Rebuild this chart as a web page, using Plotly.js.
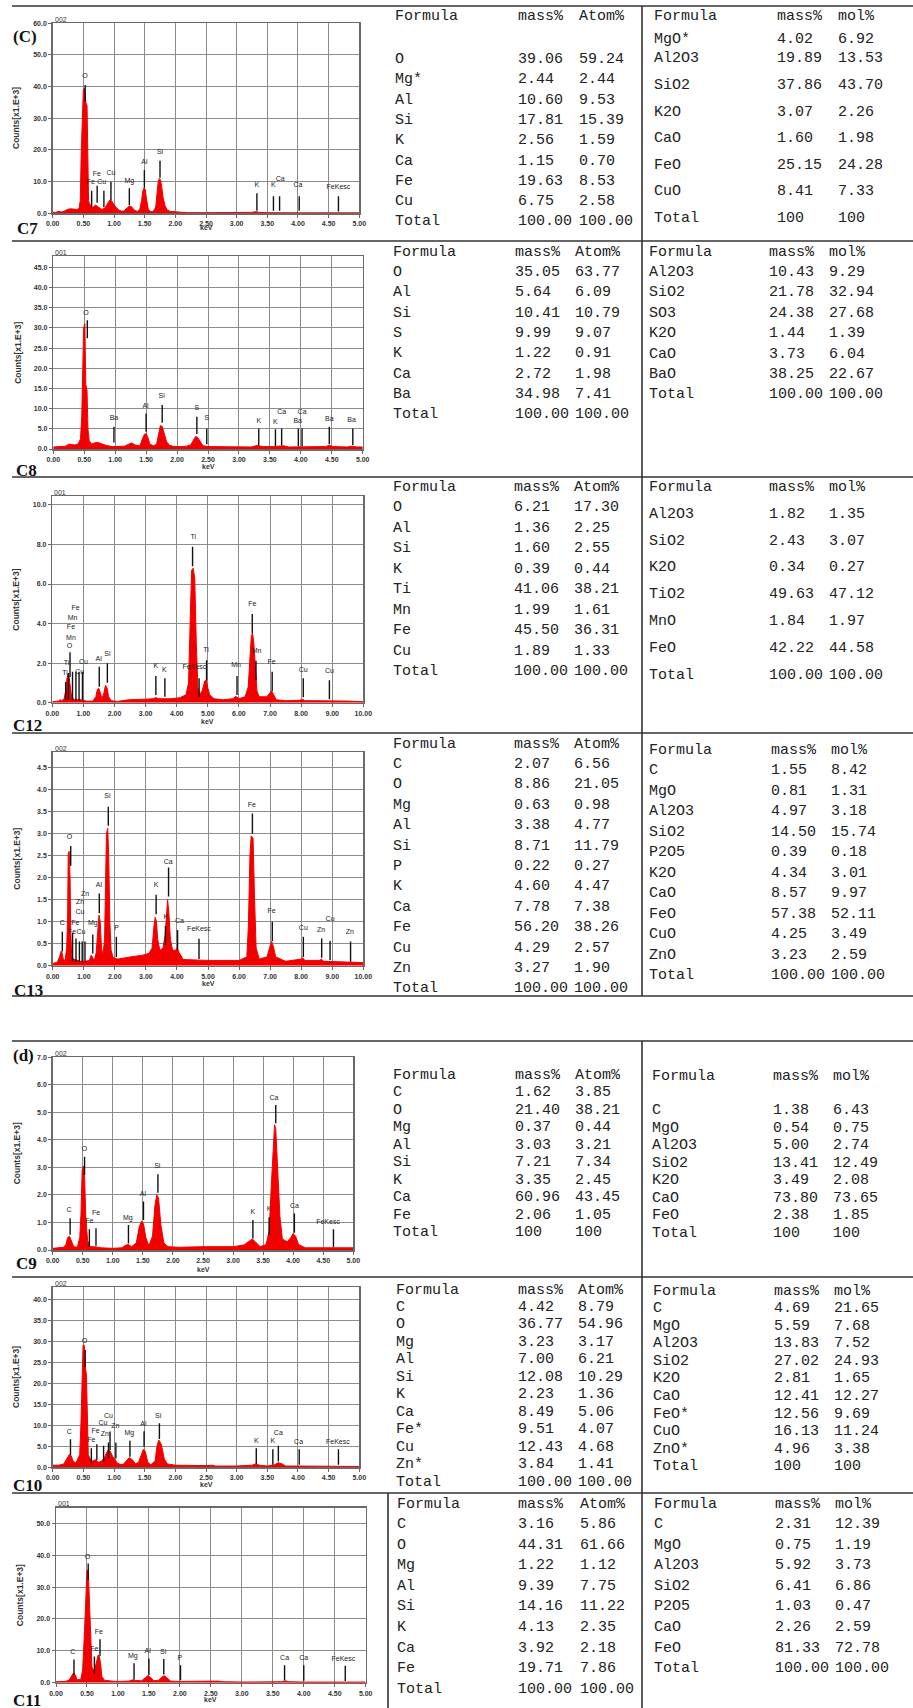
<!DOCTYPE html>
<html><head><meta charset="utf-8">
<script src="https://cdn.plot.ly/plotly-3.0.1.min.js"></script>
<style>html,body{margin:0;padding:0;background:#fff}#g{width:913px;height:1708px}</style>
</head><body><div id="g"></div><script>
// ---------------- DATA ----------------
// spectra: [keV, counts (x1.E+3)]
const c7Spec=[[0,0.3],[0.05,0.3],[0.10,0.6],[0.15,0.4],[0.20,0.8],[0.25,1.3],[0.30,1.4],[0.35,1.2],[0.40,1.2],[0.43,1.6],[0.45,4.0],[0.465,19],[0.48,30],[0.50,39],[0.52,39.5],[0.54,35],[0.56,34],[0.57,12],[0.585,4],[0.60,3],[0.65,1.8],[0.70,2.6],[0.75,2.0],[0.80,1.2],[0.85,1.6],[0.90,3.0],[0.93,4.2],[0.96,4.0],[1.00,2.6],[1.04,1.8],[1.08,1.0],[1.12,0.7],[1.16,0.7],[1.21,1.6],[1.25,2.3],[1.29,2.0],[1.33,1.0],[1.38,0.6],[1.42,1.2],[1.45,4.0],[1.47,7.0],[1.49,8.0],[1.51,7.5],[1.53,4.5],[1.56,1.2],[1.60,0.5],[1.64,0.6],[1.68,2.0],[1.70,6.5],[1.72,10.0],[1.74,11.0],[1.76,10.5],[1.78,8.0],[1.80,5.0],[1.83,2.5],[1.87,1.0],[1.92,0.6],[1.97,0.5],[2.02,0.5],[2.06,0.3],[2.2,0.2],[2.5,0.2],[3.0,0.2],[3.25,0.3],[3.31,0.5],[3.37,0.3],[3.5,0.2],[3.69,0.25],[4.0,0.15],[4.5,0.15],[5.0,0.15]];
const c8Spec=[[0,0.5],[0.1,0.6],[0.2,0.7],[0.25,1.2],[0.3,1.1],[0.35,1.0],[0.40,1.2],[0.44,2.5],[0.46,8],[0.475,21],[0.49,30],[0.51,31],[0.525,16],[0.545,14.5],[0.56,5],[0.58,2],[0.62,1.2],[0.66,1.5],[0.72,1.6],[0.78,1.3],[0.85,0.9],[0.95,0.6],[1.05,0.6],[1.15,0.7],[1.22,1.2],[1.27,1.5],[1.32,1.0],[1.40,0.8],[1.44,2.5],[1.47,3.6],[1.50,3.8],[1.53,2.8],[1.56,1.2],[1.62,0.8],[1.67,1.2],[1.70,4.0],[1.73,5.8],[1.76,5.6],[1.79,4.0],[1.83,1.8],[1.88,0.9],[1.95,0.6],[2.05,0.6],[2.15,0.7],[2.22,1.0],[2.26,2.2],[2.30,3.1],[2.33,2.9],[2.37,1.8],[2.42,0.8],[2.5,0.6],[2.7,0.6],[3.0,0.5],[3.2,0.5],[3.3,0.9],[3.38,0.6],[3.55,0.6],[3.65,0.8],[3.72,0.8],[3.8,0.5],[4.2,0.5],[4.40,0.6],[4.46,0.9],[4.52,0.6],[4.75,0.5],[4.83,0.7],[4.9,0.5],[5.0,0.5]];
const c12Spec=[[0,0.05],[0.2,0.08],[0.25,0.15],[0.3,0.1],[0.38,0.2],[0.43,0.6],[0.47,1.2],[0.50,1.42],[0.54,1.3],[0.58,0.6],[0.62,0.3],[0.7,0.15],[0.9,0.15],[1.1,0.08],[1.3,0.08],[1.4,0.3],[1.45,0.68],[1.50,0.72],[1.55,0.4],[1.6,0.2],[1.66,0.5],[1.71,0.88],[1.76,0.75],[1.81,0.3],[1.9,0.1],[2.1,0.06],[2.3,0.12],[2.5,0.15],[3.0,0.18],[3.25,0.2],[3.32,0.26],[3.4,0.2],[3.8,0.2],[4.1,0.25],[4.3,0.4],[4.38,1.0],[4.44,4.5],[4.48,6.7],[4.53,6.8],[4.58,6.3],[4.63,3.0],[4.68,0.8],[4.74,0.4],[4.82,0.6],[4.9,1.1],[4.95,1.15],[5.0,0.75],[5.06,0.4],[5.2,0.2],[5.5,0.15],[5.8,0.2],[5.9,0.32],[6.0,0.2],[6.2,0.3],[6.3,0.8],[6.35,2.5],[6.40,3.4],[6.44,3.5],[6.48,3.0],[6.53,1.8],[6.58,0.6],[6.65,0.3],[6.9,0.3],[7.0,0.5],[7.05,0.6],[7.12,0.4],[7.2,0.15],[7.5,0.1],[7.95,0.12],[8.05,0.17],[8.12,0.1],[8.5,0.1],[8.9,0.1],[9.5,0.08],[10,0.05]];
const c13Spec=[[0,0.05],[0.15,0.08],[0.22,0.2],[0.27,0.33],[0.30,0.3],[0.34,0.15],[0.40,0.12],[0.45,0.4],[0.48,1.1],[0.50,2.55],[0.53,2.6],[0.56,2.0],[0.58,0.8],[0.61,0.25],[0.66,0.15],[0.75,0.13],[0.9,0.1],[1.05,0.1],[1.18,0.12],[1.24,0.24],[1.28,0.2],[1.34,0.12],[1.40,0.3],[1.45,0.9],[1.49,1.15],[1.53,1.0],[1.57,0.4],[1.62,0.25],[1.67,0.6],[1.70,1.8],[1.73,3.0],[1.77,3.12],[1.80,2.6],[1.84,1.0],[1.88,0.35],[1.95,0.18],[2.1,0.15],[2.5,0.2],[2.9,0.24],[3.1,0.28],[3.2,0.4],[3.26,0.9],[3.30,1.1],[3.34,1.0],[3.38,0.6],[3.45,0.35],[3.55,0.4],[3.62,0.7],[3.67,1.3],[3.70,1.5],[3.74,1.2],[3.79,0.6],[3.86,0.35],[3.95,0.35],[4.01,0.4],[4.07,0.3],[4.2,0.14],[5.0,0.12],[6.0,0.12],[6.25,0.2],[6.3,0.9],[6.35,2.5],[6.39,2.95],[6.45,2.9],[6.50,1.5],[6.55,0.4],[6.65,0.15],[6.9,0.2],[7.0,0.45],[7.05,0.55],[7.1,0.45],[7.18,0.2],[7.5,0.1],[8.0,0.15],[8.05,0.18],[8.12,0.12],[8.6,0.12],[8.65,0.15],[8.72,0.1],[9.5,0.08],[10,0.07]];
const c9Spec=[[0,0.06],[0.1,0.08],[0.18,0.1],[0.22,0.2],[0.25,0.45],[0.28,0.5],[0.31,0.3],[0.35,0.12],[0.41,0.1],[0.45,0.45],[0.47,1.3],[0.49,2.9],[0.51,3.05],[0.53,2.7],[0.55,1.2],[0.58,0.35],[0.62,0.12],[0.7,0.12],[0.8,0.08],[1.0,0.06],[1.15,0.08],[1.22,0.18],[1.26,0.2],[1.31,0.12],[1.39,0.25],[1.44,0.85],[1.48,1.05],[1.51,0.95],[1.55,0.45],[1.6,0.15],[1.66,0.5],[1.70,1.6],[1.73,2.0],[1.76,1.9],[1.80,0.9],[1.85,0.25],[1.92,0.12],[2.1,0.1],[2.5,0.12],[3.0,0.12],[3.18,0.18],[3.27,0.32],[3.32,0.4],[3.37,0.3],[3.45,0.12],[3.55,0.2],[3.60,0.7],[3.64,2.5],[3.67,4.0],[3.69,4.55],[3.71,4.4],[3.74,3.0],[3.78,1.2],[3.82,0.4],[3.9,0.3],[3.96,0.45],[4.0,0.6],[4.04,0.5],[4.09,0.2],[4.2,0.08],[4.6,0.08],[5.0,0.08]];
const c10Spec=[[0,0.5],[0.1,0.5],[0.18,0.8],[0.23,2.0],[0.27,3.0],[0.30,2.8],[0.33,1.5],[0.38,1.0],[0.44,3],[0.46,10],[0.48,20],[0.495,29],[0.515,29],[0.53,24],[0.55,22],[0.565,8],[0.58,3],[0.61,2],[0.65,1.5],[0.70,1.8],[0.75,1.2],[0.80,1.5],[0.85,2.5],[0.88,3.5],[0.91,4.2],[0.94,3.8],[0.98,2.5],[1.02,1.8],[1.05,1.0],[1.1,0.7],[1.15,0.7],[1.2,1.5],[1.25,2.3],[1.3,1.8],[1.35,0.8],[1.4,1.2],[1.45,3.5],[1.48,4.3],[1.51,3.8],[1.55,1.2],[1.6,0.6],[1.67,1.5],[1.70,5.0],[1.73,6.5],[1.77,5.5],[1.82,2.0],[1.87,0.8],[1.95,0.6],[2.0,0.5],[2.5,0.4],[2.6,0.5],[2.65,0.3],[3.0,0.3],[3.25,0.5],[3.31,0.8],[3.37,0.5],[3.5,0.3],[3.62,0.6],[3.68,1.1],[3.74,0.8],[3.8,0.3],[4.0,0.3],[4.5,0.2],[5.0,0.2]];
const c11Spec=[[0,0.3],[0.15,0.4],[0.21,0.8],[0.25,2.3],[0.28,3.0],[0.31,2.5],[0.34,0.9],[0.40,1.0],[0.43,4],[0.46,16],[0.48,25],[0.50,35],[0.52,35.5],[0.54,26],[0.56,11],[0.58,5],[0.60,4],[0.63,4.5],[0.66,7],[0.68,8.7],[0.70,8.2],[0.72,6],[0.74,2],[0.78,0.8],[0.9,0.5],[1.0,0.4],[1.18,0.5],[1.24,0.9],[1.29,0.7],[1.38,0.6],[1.44,1.5],[1.48,2.2],[1.52,1.8],[1.58,0.6],[1.66,0.8],[1.71,1.8],[1.75,2.2],[1.79,1.6],[1.85,0.5],[2.0,0.4],[2.5,0.4],[2.55,0.6],[2.62,0.5],[2.7,0.3],[3.0,0.2],[3.64,0.3],[3.70,0.6],[3.76,0.3],[4.0,0.2],[5.0,0.2]];

// peak markers: [keV, low, high]; labels: [text, keV, counts]
const c7Marks=[[0.53,35.2,40.5],[0.635,1.9,7.1],[0.725,3.3,8.7],[0.835,1.9,7.1],[0.95,4.2,10.0],[1.25,2.6,7.9],[1.495,8.1,13.7],[1.75,11.2,16.6],[3.33,0.8,6.3],[3.60,0.8,5.4],[3.70,0.8,5.4],[4.02,0.8,5.4],[4.66,0.6,5.4]];
const c7Labels=[['O',0.527,43.2],['Fe',0.72,12.3],['Cu',0.95,12.6],['Fe',0.62,9.7],['Cu',0.80,9.7],['Mg',1.25,10.0],['Al',1.495,16.0],['Si',1.75,19.2],['K',3.33,8.7],['K',3.60,8.7],['Ca',3.71,10.8],['Ca',4.0,8.7],['FeKesc',4.66,8.1]];
const c8Marks=[[0.55,27.4,31.9],[0.98,1.6,5.5],[1.50,4.3,8.8],[1.76,6.5,10.9],[2.32,3.7,8.0],[2.48,1.2,5.1],[3.32,1.0,5.1],[3.59,0.7,4.9],[3.69,0.9,5.1],[3.96,0.7,5.1],[4.02,0.7,5.1],[4.46,1.2,5.5],[4.84,1.0,5.1]];
const c8Labels=[['O',0.53,33.7],['Ba',0.98,7.6],['Al',1.49,10.7],['Si',1.75,13.0],['S',2.32,10.1],['S',2.48,7.6],['K',3.32,6.9],['K',3.59,6.6],['Ca',3.69,9.0],['Ba',3.95,6.8],['Ca',4.02,9.0],['Ba',4.46,7.3],['Ba',4.82,7.0]];
const c12Marks=[[0.43,0.15,1.05],[0.52,0.15,1.5],[0.57,1.3,2.55],[0.65,0.13,1.57],[0.76,0.13,1.57],[0.86,0.13,1.57],[0.97,0.13,1.57],[1.51,0.81,1.82],[1.77,1.01,1.99],[3.33,0.39,1.35],[3.62,0.3,1.23],[4.51,6.9,7.88],[4.72,0.3,1.23],[4.96,1.14,2.15],[5.94,0.39,1.35],[6.43,3.5,4.48],[6.55,1.14,2.12],[7.07,0.59,1.57],[8.07,0.27,1.23],[8.91,0.17,1.14]];
const c12Labels=[['Ti',0.41,1.5],['Ti',0.46,2.0],['O',0.55,2.86],['Mn',0.60,3.28],['Fe',0.60,3.79],['Mn',0.65,4.26],['Fe',0.75,4.76],['Cu',0.88,1.53],['Cu',1.0,2.02],['Al',1.49,2.19],['Si',1.77,2.46],['K',3.33,1.82],['K',3.60,1.65],['Ti',4.53,8.35],['FeKesc',4.57,1.78],['Ti',4.94,2.66],['Mn',5.91,1.87],['Fe',6.43,4.97],['Mn',6.57,2.61],['Fe',7.05,2.04],['Cu',8.07,1.65],['Cu',8.91,1.57]];
const c13Marks=[[0.31,0.32,0.77],[0.58,2.27,2.72],[0.64,0.09,0.75],[0.75,0.09,0.62],[0.86,0.09,0.55],[0.95,0.09,0.55],[1.04,0.09,0.55],[1.29,0.28,0.71],[1.50,1.19,1.64],[1.79,3.18,3.61],[2.05,0.2,0.66],[3.33,1.17,1.61],[3.63,0.47,0.9],[3.73,1.57,2.23],[4.02,0.36,0.81],[4.71,0.15,0.61],[6.43,3.0,3.46],[7.07,0.56,1.0],[8.07,0.2,0.66],[8.66,0.18,0.62],[8.93,0.13,0.56],[9.59,0.09,0.55]];
const c13Labels=[['C',0.31,0.96],['O',0.54,2.91],['Zn',1.04,1.62],['Zn',0.88,1.44],['Cu',0.88,1.21],['Fe',0.73,0.96],['Fe',0.62,0.77],['Cu',0.91,0.77],['Mg',1.29,0.96],['Al',1.49,1.82],['Si',1.76,3.84],['P',2.06,0.86],['K',3.33,1.82],['K',3.64,1.11],['Ca',3.72,2.36],['Ca',4.08,1.02],['FeKesc',4.71,0.83],['Fe',6.41,3.65],['Fe',7.05,1.23],['Cu',8.07,0.86],['Zn',8.64,0.81],['Cu',8.93,1.06],['Zn',9.57,0.76]];
const c9Marks=[[0.29,0.55,1.15],[0.53,2.72,3.39],[0.61,0.12,0.75],[0.72,0.15,0.79],[1.26,0.24,0.91],[1.51,1.09,1.76],[1.75,2.08,2.75],[3.33,0.42,1.09],[3.60,0.55,1.19],[3.71,4.6,5.27],[4.02,0.63,1.33],[4.67,0.1,0.75]];
const c9Labels=[['C',0.27,1.45],['O',0.53,3.67],['Fe',0.61,1.03],['Fe',0.72,1.33],['Mg',1.25,1.17],['Al',1.50,2.03],['Si',1.74,3.03],['K',3.33,1.36],['K',3.60,1.48],['Ca',3.68,5.53],['Ca',4.02,1.6],['FeKesc',4.58,1.0]];
const c10Marks=[[0.29,2.93,6.65],[0.53,23.8,27.9],[0.63,0.95,4.5],[0.72,1.74,5.5],[0.83,1.35,5.1],[0.91,2.1,5.9],[0.935,4.1,8.5],[1.03,2.1,5.9],[1.26,2.5,6.3],[1.49,4.9,8.6],[1.74,6.7,10.5],[3.32,0.8,4.5],[3.59,0.6,4.3],[3.68,1.35,5.1],[4.02,0.6,4.3],[4.66,0.6,4.3]];
const c10Labels=[['C',0.27,8.3],['O',0.52,29.9],['Fe',0.63,6.5],['Fe',0.70,8.5],['Cu',0.91,12.2],['Cu',0.82,10.4],['Zn',1.02,9.8],['Zn',0.85,7.8],['Mg',1.25,8.1],['Al',1.48,10.3],['Si',1.72,12.2],['K',3.32,6.1],['K',3.59,6.1],['Ca',3.68,8.1],['Ca',4.01,5.9],['FeKesc',4.65,5.9]];
const c11Marks=[[0.29,2.4,7.3],[0.52,32.2,37.4],[0.62,2.9,8.2],[0.71,8.4,13.6],[1.26,1.0,6.1],[1.50,2.4,7.6],[1.74,2.6,7.4],[2.01,0.8,5.5],[3.69,0.8,5.5],[4.00,0.6,5.5],[4.67,0.5,5.3]];
const c11Labels=[['C',0.27,9.5],['O',0.51,39.5],['Fe',0.62,10.6],['Fe',0.69,15.8],['Mg',1.24,8.2],['Al',1.48,9.9],['Si',1.73,9.7],['P',2.0,7.8],['Ca',3.69,7.8],['Ca',4.0,7.8],['FeKesc',4.64,7.3]];

// tables
const hdrAtom=['Formula','mass%','Atom%'];
const hdrMol=['Formula','mass%','mol%'];
const t7aF=['O','Mg*','Al','Si','K','Ca','Fe','Cu','Total'];
const t7aM=['39.06','2.44','10.60','17.81','2.56','1.15','19.63','6.75','100.00'];
const t7aA=['59.24','2.44','9.53','15.39','1.59','0.70','8.53','2.58','100.00'];
const t7bF=['MgO*','Al2O3','SiO2','K2O','CaO','FeO','CuO','Total'];
const t7bM=['4.02','19.89','37.86','3.07','1.60','25.15','8.41','100'];
const t7bN=['6.92','13.53','43.70','2.26','1.98','24.28','7.33','100'];
const t8aF=['O','Al','Si','S','K','Ca','Ba','Total'];
const t8aM=['35.05','5.64','10.41','9.99','1.22','2.72','34.98','100.00'];
const t8aA=['63.77','6.09','10.79','9.07','0.91','1.98','7.41','100.00'];
const t8bF=['Al2O3','SiO2','SO3','K2O','CaO','BaO','Total'];
const t8bM=['10.43','21.78','24.38','1.44','3.73','38.25','100.00'];
const t8bN=['9.29','32.94','27.68','1.39','6.04','22.67','100.00'];
const t12aF=['O','Al','Si','K','Ti','Mn','Fe','Cu','Total'];
const t12aM=['6.21','1.36','1.60','0.39','41.06','1.99','45.50','1.89','100.00'];
const t12aA=['17.30','2.25','2.55','0.44','38.21','1.61','36.31','1.33','100.00'];
const t12bF=['Al2O3','SiO2','K2O','TiO2','MnO','FeO','Total'];
const t12bM=['1.82','2.43','0.34','49.63','1.84','42.22','100.00'];
const t12bN=['1.35','3.07','0.27','47.12','1.97','44.58','100.00'];
const t13aF=['C','O','Mg','Al','Si','P','K','Ca','Fe','Cu','Zn','Total'];
const t13aM=['2.07','8.86','0.63','3.38','8.71','0.22','4.60','7.78','56.20','4.29','3.27','100.00'];
const t13aA=['6.56','21.05','0.98','4.77','11.79','0.27','4.47','7.38','38.26','2.57','1.90','100.00'];
const t13bF=['C','MgO','Al2O3','SiO2','P2O5','K2O','CaO','FeO','CuO','ZnO','Total'];
const t13bM=['1.55','0.81','4.97','14.50','0.39','4.34','8.57','57.38','4.25','3.23','100.00'];
const t13bN=['8.42','1.31','3.18','15.74','0.18','3.01','9.97','52.11','3.49','2.59','100.00'];
const t9aF=['C','O','Mg','Al','Si','K','Ca','Fe','Total'];
const t9aM=['1.62','21.40','0.37','3.03','7.21','3.35','60.96','2.06','100'];
const t9aA=['3.85','38.21','0.44','3.21','7.34','2.45','43.45','1.05','100'];
const t9bF=['C','MgO','Al2O3','SiO2','K2O','CaO','FeO','Total'];
const t9bM=['1.38','0.54','5.00','13.41','3.49','73.80','2.38','100'];
const t9bN=['6.43','0.75','2.74','12.49','2.08','73.65','1.85','100'];
const t10aF=['C','O','Mg','Al','Si','K','Ca','Fe*','Cu','Zn*','Total'];
const t10aM=['4.42','36.77','3.23','7.00','12.08','2.23','8.49','9.51','12.43','3.84','100.00'];
const t10aA=['8.79','54.96','3.17','6.21','10.29','1.36','5.06','4.07','4.68','1.41','100.00'];
const t10bF=['C','MgO','Al2O3','SiO2','K2O','CaO','FeO*','CuO','ZnO*','Total'];
const t10bM=['4.69','5.59','13.83','27.02','2.81','12.41','12.56','16.13','4.96','100'];
const t10bN=['21.65','7.68','7.52','24.93','1.65','12.27','9.69','11.24','3.38','100'];
const t11aF=['C','O','Mg','Al','Si','K','Ca','Fe','Total'];
const t11aM=['3.16','44.31','1.22','9.39','14.16','4.13','3.92','19.71','100.00'];
const t11aA=['5.86','61.66','1.12','7.75','11.22','2.35','2.18','7.86','100.00'];
const t11bF=['C','MgO','Al2O3','SiO2','P2O5','CaO','FeO','Total'];
const t11bM=['2.31','0.75','5.92','6.41','1.03','2.26','81.33','100.00'];
const t11bN=['12.39','1.19','3.73','6.86','0.47','2.59','72.78','100.00'];

// ---------------- LAYOUT ----------------
const W=913,H=1708;
const charts=[
 {name:'C7',spec:c7Spec,mk:c7Marks,lab:c7Labels,box:[52.7,359.3,23.3,213.3],yr:[0,60],yd:10,xr:[0,5],xd:0.5,tag:'002',nxy:[15,228],kev:14},
 {name:'C8',spec:c8Spec,mk:c8Marks,lab:c8Labels,box:[53.3,362.7,256,449],yr:[0,47.8],yd:5,xr:[0,5],xd:0.5,tag:'001',nxy:[14,470],kev:17},
 {name:'C12',spec:c12Spec,mk:c12Marks,lab:c12Labels,box:[52.3,363.3,496,702.7],yr:[0,10.45],yd:2,xr:[0,10],xd:1,tag:'001',nxy:[11,725],kev:19},
 {name:'C13',spec:c13Spec,mk:c13Marks,lab:c13Labels,box:[52.7,363.3,752.3,965.7],yr:[0,4.85],yd:0.5,xr:[0,10],xd:1,tag:'002',nxy:[12,990],kev:18},
 {name:'C9',spec:c9Spec,mk:c9Marks,lab:c9Labels,box:[52.7,353.3,1057.3,1250],yr:[0,7],yd:1,xr:[0,5],xd:0.5,tag:'002',nxy:[14,1263],kev:19},
 {name:'C10',spec:c10Spec,mk:c10Marks,lab:c10Labels,box:[52.7,359.3,1287.3,1467.3],yr:[0,42.8],yd:5,xr:[0,5],xd:0.5,tag:'002',nxy:[11,1485],kev:17},
 {name:'C11',spec:c11Spec,mk:c11Marks,lab:c11Labels,box:[56,365.7,1507.7,1682.7],yr:[0,54.9],yd:10,xr:[0,5],xd:0.5,tag:'001',nxy:[11,1700],kev:17}
];
const tables=[
 {h:hdrAtom,c:[t7aF,t7aM,t7aA],x:[395,518,579],hy:16.7,first:59.3,step:20.3},
 {h:hdrMol,c:[t7bF,t7bM,t7bN],x:[654,777,838],hy:16.7,first:39.3,gap1:19.4,step:26.6},
 {h:hdrAtom,c:[t8aF,t8aM,t8aA],x:[393,515,575],hy:252.7,first:272.3,step:20.3},
 {h:hdrMol,c:[t8bF,t8bM,t8bN],x:[649,769,829],hy:252.7,first:272.3,step:20.4},
 {h:hdrAtom,c:[t12aF,t12aM,t12aA],x:[393,514,574],hy:487.7,first:507.7,step:20.5},
 {h:hdrMol,c:[t12bF,t12bM,t12bN],x:[649,769,829],hy:487.7,first:514,step:26.8},
 {h:hdrAtom,c:[t13aF,t13aM,t13aA],x:[393,514,574],hy:744.3,first:764.3,step:20.4},
 {h:hdrMol,c:[t13bF,t13bM,t13bN],x:[649,771,831],hy:750,first:770.7,step:20.45},
 {h:hdrAtom,c:[t9aF,t9aM,t9aA],x:[393,515,575],hy:1075,first:1092.5,step:17.5},
 {h:hdrMol,c:[t9bF,t9bM,t9bN],x:[652,773,833],hy:1076,first:1110.7,step:17.5},
 {h:hdrAtom,c:[t10aF,t10aM,t10aA],x:[396,518,578],hy:1290,first:1307,step:17.5},
 {h:hdrMol,c:[t10bF,t10bM,t10bN],x:[653,774,834],hy:1291,first:1308.3,step:17.6},
 {h:hdrAtom,c:[t11aF,t11aM,t11aA],x:[397,518,580],hy:1504.3,first:1524.3,step:20.6},
 {h:hdrMol,c:[t11bF,t11bM,t11bN],x:[654,775,835],hy:1504.3,first:1524.3,step:20.6}
];
const hLines=[[12,913,6],[12,913,241],[12,913,477],[12,913,733],[12,913,996],[12,913,1041],[12,913,1277],[12,913,1493]];
const vLines=[[642,6,996],[642,1041,1708],[388,1493,1708]];

const traces=[];
const layout={width:W,height:H,margin:{l:0,r:0,t:0,b:0,pad:0},showlegend:false,
  paper_bgcolor:'#ffffff',plot_bgcolor:'rgba(0,0,0,0)',hovermode:false,annotations:[],shapes:[]};
const tickFont={family:'Liberation Sans, Arial, sans-serif',size:7,color:'#333',weight:'bold'};
const axCommon={showgrid:true,gridcolor:'#8c8c8c',gridwidth:1,showline:true,mirror:true,linecolor:'#6a6a6a',linewidth:1.5,
  ticks:'outside',ticklen:3,tickwidth:1,tickcolor:'#666',tickfont:tickFont,zeroline:false,fixedrange:true,tick0:0};
const OV={xref:'x8',yref:'y8',showarrow:false};

charts.forEach((c,i)=>{
  const n=i+1, s=n===1?'':String(n);
  const [l,r,t,b]=c.box;
  layout['xaxis'+s]=Object.assign({},axCommon,{domain:[l/W,r/W],anchor:'y'+s,range:c.xr,dtick:c.xd,tickformat:'.2f'});
  layout['yaxis'+s]=Object.assign({},axCommon,{domain:[1-b/H,1-t/H],anchor:'x'+s,range:c.yr,dtick:c.yd,tickformat:'.1f'});
  traces.push({type:'scatter',mode:'lines',xaxis:'x'+s,yaxis:'y'+s,x:c.spec.map(p=>p[0]),y:c.spec.map(p=>p[1]),
    fill:'tozeroy',fillcolor:'rgb(242,0,0)',line:{color:'rgb(242,0,0)',width:1}});
  const mx=[],my=[];
  c.mk.forEach(m=>{mx.push(m[0],m[0],null);my.push(m[1],m[2],null);});
  traces.push({type:'scatter',mode:'lines',xaxis:'x'+s,yaxis:'y'+s,x:mx,y:my,line:{color:'#111',width:1.4}});
  traces.push({type:'scatter',mode:'text',xaxis:'x'+s,yaxis:'y'+s,x:c.lab.map(p=>p[1]),y:c.lab.map(p=>p[2]),text:c.lab.map(p=>p[0]),
    textposition:'middle center',cliponaxis:false,textfont:{family:'Liberation Sans, Arial, sans-serif',size:7,color:'#222'}});
  layout.annotations.push(Object.assign({},OV,{x:c.nxy[0],y:c.nxy[1],text:c.name,xanchor:'left',yanchor:'middle',
    font:{family:'Liberation Serif, Times New Roman, serif',size:17,color:'#111',weight:'bold'}}));
  layout.annotations.push(Object.assign({},OV,{x:l,y:t-4,text:c.tag,xanchor:'left',yanchor:'middle',
    font:{family:'Liberation Sans, Arial, sans-serif',size:7,color:'#333'}}));
  layout.annotations.push(Object.assign({},OV,{x:(l+r)/2,y:b+c.kev,text:'keV',xanchor:'center',yanchor:'middle',
    font:{family:'Liberation Sans, Arial, sans-serif',size:7,color:'#333',weight:'bold'}}));
  layout.annotations.push(Object.assign({},OV,{x:l-36,y:(t+b)/2,text:'Counts[x1.E+3]',textangle:-90,xanchor:'center',yanchor:'middle',
    font:{family:'Liberation Sans, Arial, sans-serif',size:8.5,color:'#333',weight:'bold'}}));
});
layout.annotations.push(Object.assign({},OV,{x:11,y:36,text:'(C)',xanchor:'left',yanchor:'middle',
  font:{family:'Liberation Serif, Times New Roman, serif',size:17,color:'#111',weight:'bold'}}));
layout.annotations.push(Object.assign({},OV,{x:11,y:1055,text:'(d)',xanchor:'left',yanchor:'middle',
  font:{family:'Liberation Serif, Times New Roman, serif',size:17,color:'#111',weight:'bold'}}));

// overlay axes in page pixels
layout.xaxis8={domain:[0,1],range:[0,W],visible:false,fixedrange:true,anchor:'y8'};
layout.yaxis8={domain:[0,1],range:[H,0],visible:false,fixedrange:true,anchor:'x8'};

tables.forEach(tb=>{
  const n=tb.c[0].length;
  const ys=[tb.hy];
  for(let k=0;k<n;k++){ys.push(k===0?tb.first:tb.first+(tb.gap1||tb.step)+(k-1)*tb.step);}
  for(let j=0;j<3;j++){
    traces.push({type:'scatter',mode:'text',xaxis:'x8',yaxis:'y8',x:ys.map(()=>tb.x[j]),y:ys,text:[tb.h[j]].concat(tb.c[j]),
      textposition:'middle right',cliponaxis:false,textfont:{family:'Liberation Mono, Courier New, monospace',size:15,color:'#222'}});
  }
});
hLines.forEach(h=>layout.shapes.push({type:'line',xref:'x8',yref:'y8',x0:h[0],x1:h[1],y0:h[2],y1:h[2],line:{color:'#333',width:1.6}}));
vLines.forEach(v=>layout.shapes.push({type:'line',xref:'x8',yref:'y8',x0:v[0],x1:v[0],y0:v[1],y1:v[2],line:{color:'#333',width:1.6}}));

Plotly.newPlot('g',traces,layout,{staticPlot:true,displayModeBar:false});
</script></body></html>
